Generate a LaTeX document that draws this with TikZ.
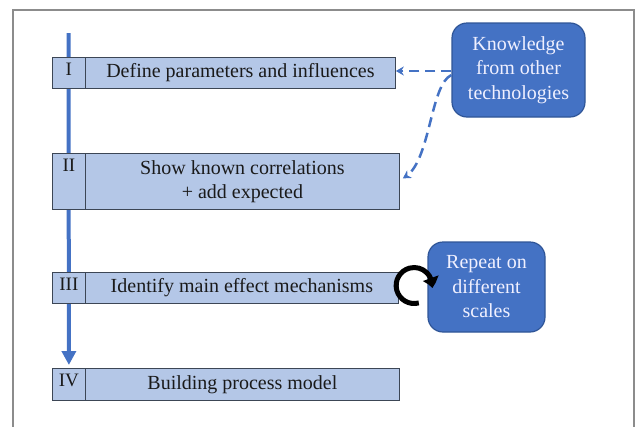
\documentclass[tikz,border=0pt]{standalone}
\usepackage{fontspec}
\setmainfont{Liberation Serif}
\usetikzlibrary{arrows.meta,backgrounds,bending}
\definecolor{boxfill}{HTML}{B4C7E7}
\definecolor{boxline}{HTML}{3C4655}
\definecolor{midblue}{HTML}{4472C4}
\definecolor{darkblue}{HTML}{2F5597}
\definecolor{framegray}{HTML}{8C8C8C}
\definecolor{textdark}{HTML}{1A1A1A}
\tikzset{
  numbox/.style={draw=boxline, fill=boxfill, line width=0.8pt, minimum width=33pt,
    anchor=north west, inner sep=0pt},
  txtbox/.style={draw=boxline, fill=boxfill, line width=0.8pt, anchor=north west,
    align=center, text=textdark, font=\fontsize{20}{24}\selectfont, inner sep=0pt},
  numlab/.style={anchor=north, inner sep=6pt, text=textdark, font=\fontsize{19}{22}\selectfont},
  bluebox/.style={draw=darkblue, fill=midblue, line width=1.2pt, rounded corners=15pt,
    text=white!94!blue, align=center, font=\fontsize{20}{24.5}\selectfont, inner sep=0pt},
  axisline/.style={midblue, line width=4pt, -{Triangle[width=14pt,length=14pt]}},
  dasharrow/.style={midblue, line width=2.5pt, dash pattern=on 10pt off 6pt,
    -{Stealth[length=8pt,width=9pt]}},
  looparrow/.style={black, line width=5pt, -{Triangle[width=16pt,length=10pt,bend]}},
  frameline/.style={framegray, line width=1.5pt}
}
\begin{document}
\begin{tikzpicture}[x=1pt,y=1pt]
\useasboundingbox (0,0) rectangle (636,-426);
\clip (0,0) rectangle (636,-426);
\draw[frameline] (13,-440) -- (13,-10) -- (634,-10) -- (634,-440);

% step boxes
\node[numbox, minimum height=31pt, label={[numlab]north:I}] (n1) at (52,-57) {};
\node[txtbox, minimum width=310pt, minimum height=31pt] (t1) at (85,-57) {Define parameters and influences};

\node[numbox, minimum height=56pt, label={[numlab]north:II}] (n2) at (52,-153) {};
\node[txtbox, minimum width=314pt, minimum height=56pt] (t2) at (85,-153) {Show known correlations\\+ add expected};

\node[numbox, minimum height=31pt, label={[numlab]north:III}] (n3) at (52,-272) {};
\node[txtbox, minimum width=313pt, minimum height=31pt] (t3) at (85,-272) {Identify main effect mechanisms};

\node[numbox, minimum height=32pt, label={[numlab]north:IV}] (n4) at (52,-368) {};
\node[txtbox, minimum width=314pt, minimum height=32pt] (t4) at (85,-368) {Building process model};

% side boxes
\node[bluebox, minimum width=133pt, minimum height=94pt] (k) at (518.5,-70) {Knowledge\\from other\\technologies};
\node[bluebox, minimum width=117pt, minimum height=90pt] (r) at (486.5,-287) {Repeat on\\different\\scales};

% main axis
\coordinate (axtop) at (68.5,-33);
\begin{scope}[on background layer]
  \draw[axisline] (axtop) -- ([yshift=3pt]n4.north);
\end{scope}

% dashed arrows
\draw[dasharrow] ([yshift=-1pt]k.west) -- ([yshift=-1pt]k.west -| t1.east);
\draw[dasharrow] ([yshift=-5pt]k.west) .. controls +(-22,-10) and +(28,13) .. ([xshift=3pt,yshift=3pt]t2.east);

% repeat loop
\coordinate (loopstart) at ([xshift=20pt,yshift=-15pt]t3.east);
\draw[looparrow] (loopstart) arc[start angle=285, end angle=-8, radius=18pt];
\end{tikzpicture}
\end{document}
